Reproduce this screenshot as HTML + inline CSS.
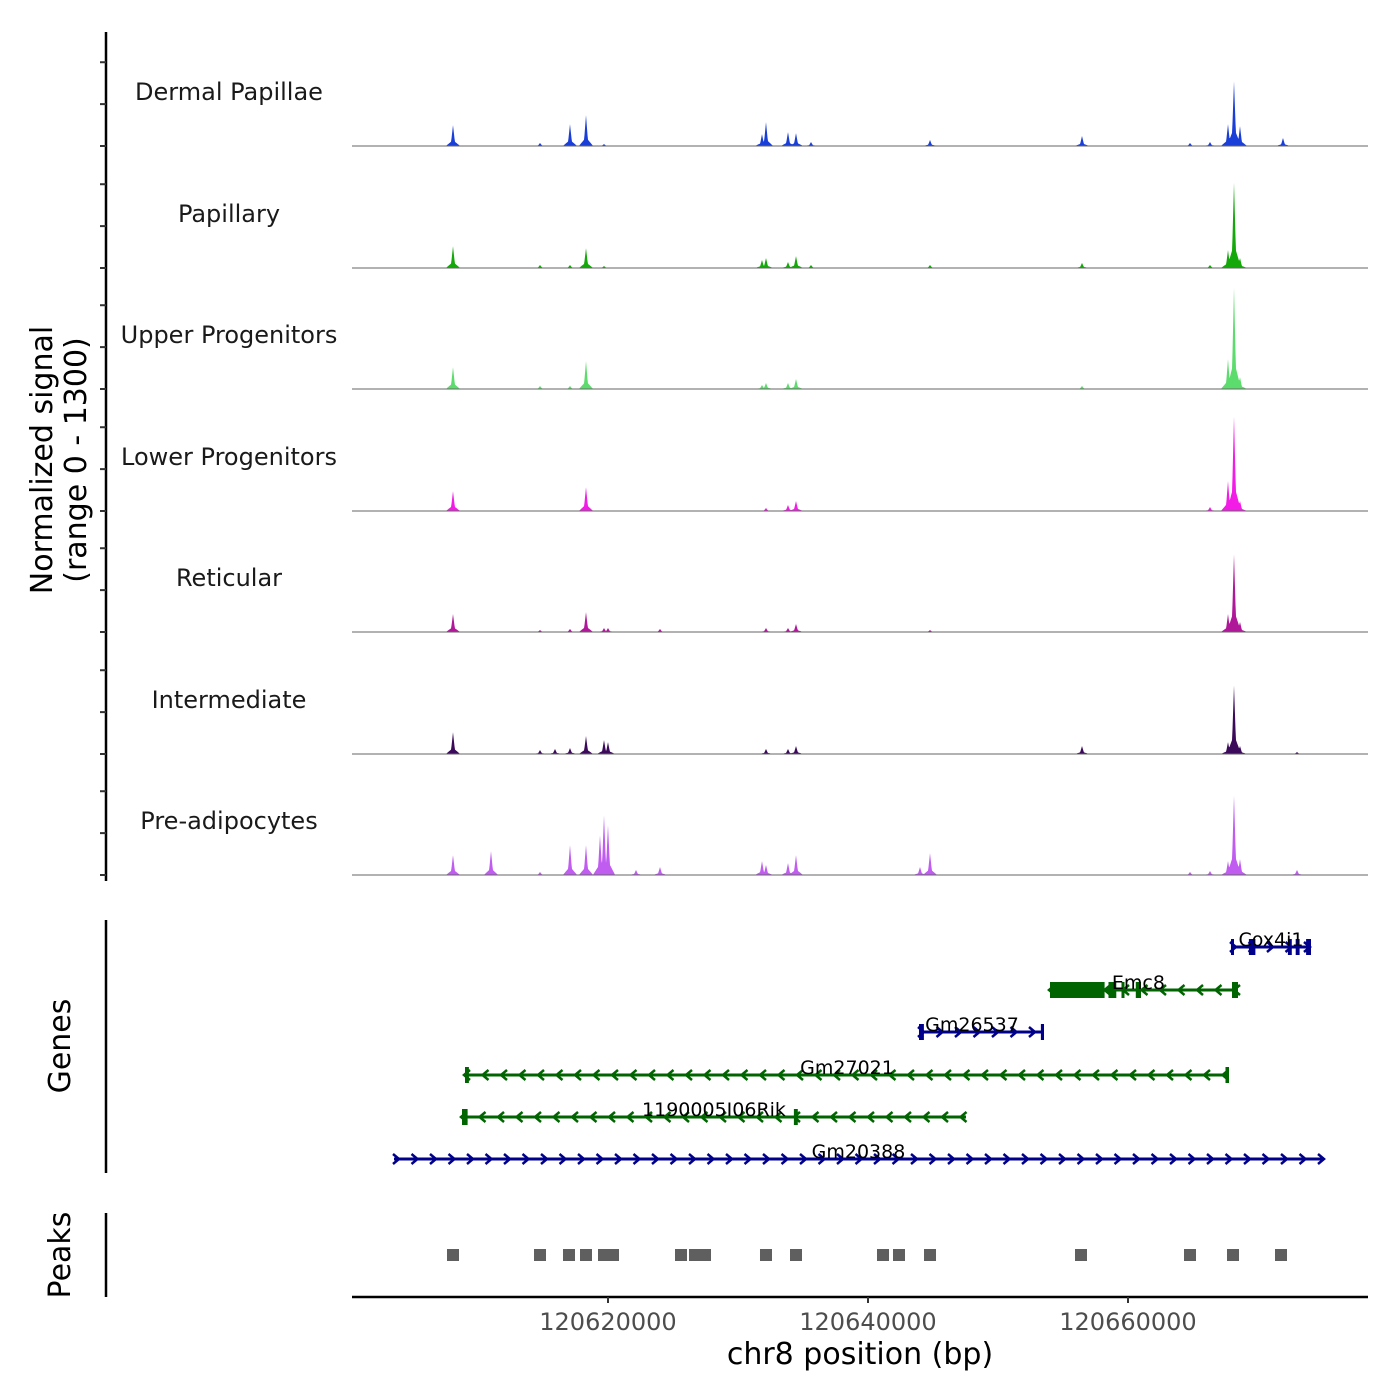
<!DOCTYPE html>
<html><head><meta charset="utf-8"><style>
html,body{margin:0;padding:0;background:#fff;}
svg{display:block;font-family:"DejaVu Sans","Liberation Sans",sans-serif;}
</style></head><body>
<svg id="chart" width="1400" height="1400" viewBox="0 0 1400 1400" xmlns="http://www.w3.org/2000/svg"></svg>
<script>
// ---- data ----
const trackNames = ["Dermal Papillae","Papillary","Upper Progenitors","Lower Progenitors","Reticular","Intermediate","Pre-adipocytes"];
const trackColors = ["#1a3fd8","#14a80a","#5ddc6e","#f21ce6","#b0189a","#3c0a5a","#c05cf0"];
const peakPositions = [120608077,120611000,120614770,120615923,120617077,120618308,120619385,120619693,120620000,120622154,120624000,120631846,120632154,120633846,120634462,120635616,120644000,120644770,120656462,120664770,120666308,120667693,120668154,120668616,120671923,120673000];
const dermalValues = [225,0,32,0,235,332,0,21,0,0,0,128,257,150,139,43,0,64,107,32,43,235,696,214,86,0];
const papillaryValues = [235,0,32,0,32,214,0,21,0,0,0,86,107,64,128,32,0,32,54,0,32,193,920,107,0,0];
const upperValues = [235,0,32,0,32,300,0,0,0,0,0,43,64,64,107,0,0,0,32,0,0,321,1091,128,0,0];
const lowerValues = [214,0,0,0,0,257,0,0,0,0,0,0,32,64,107,0,0,0,0,0,43,321,1016,107,0,0];
const reticularValues = [193,0,21,0,32,214,0,43,43,0,32,0,43,43,86,0,0,21,0,0,0,193,835,107,0,0];
const intermediateValues = [235,0,43,54,64,193,0,150,128,0,0,0,54,54,86,0,0,0,86,0,0,128,738,86,0,21];
const preadipoValues = [214,257,32,0,321,321,428,642,535,54,86,150,107,128,214,0,86,235,0,32,43,150,856,171,0,54];
const trackValues = [dermalValues,papillaryValues,upperValues,lowerValues,reticularValues,intermediateValues,preadipoValues];
const geneNames = ["Cox4i1","Emc8","Gm26537","Gm27021","1190005I06Rik","Gm20388"];
const geneStarts = [120667923,120654000,120643923,120609000,120608770,120603539];
const geneEnds = [120674077,120668462,120653539,120667770,120647539,120675000];
const geneStrands = ["+","-","+","-","-","+"];
const geneExons = [
  [[120667923,120668100],[120669300,120669800],[120672300,120672600],[120672900,120673200],[120673700,120674077]],
  [[120654000,120658200],[120658500,120659100],[120659500,120659700],[120660600,120661000],[120668000,120668462]],
  [[120643923,120644300],[120653300,120653539]],
  [[120609000,120609300],[120667500,120667770]],
  [[120608770,120609200],[120634300,120634600]],
  []
];
const peakRegions = [120608077,120614770,120617000,120618308,120619693,120620385,120625616,120626693,120627462,120632154,120634462,120641154,120642385,120644770,120656385,120664770,120668077,120671770];
const xTicks = [120620000,120640000,120660000];
const xTickLabels = ["120620000","120640000","120660000"];

// ---- scales ----
const X0 = 352, X1 = 1368, BP0 = 120600308, BP1 = 120678462;
const xScale = bp => X0 + (bp - BP0) / (BP1 - BP0) * (X1 - X0);
const baselines = [146,268,389,511,632,754,875];
const TRACK_H = 121, YMAX = 1300;
const yScale = (v, i) => baselines[i] - v / YMAX * TRACK_H;

const svg = document.getElementById('chart');
const NS = "http://www.w3.org/2000/svg";
function mk(tag, attrs, parent){ const e=document.createElementNS(NS,tag); for(const k in attrs) e.setAttribute(k,attrs[k]); (parent||svg).appendChild(e); return e; }

// ---- left axis for signal ----
const sigAxis = mk('line',{x1:106,y1:32,x2:106,y2:881,stroke:'#000','stroke-width':2.5});


baselines.forEach((b)=>{
  [0,450,900].forEach(v=>{
    const y = b - v / YMAX * TRACK_H;
    const t = mk('line',{x1:100,y1:y,x2:106,y2:y,stroke:'#333','stroke-width':2});
    
    
  });
});
const yt = mk('text',{transform:'translate(52,460) rotate(-90)','text-anchor':'middle','font-size':30,fill:'#000'});


const ts1 = mk('tspan',{x:0,dy:0},yt); ts1.textContent='Normalized signal';
const ts2 = mk('tspan',{x:0,dy:34},yt); ts2.textContent='(range 0 - 1300)';

// ---- tracks ----
function signalAt(bp, vals){
  let m = 0;
  peakPositions.forEach((p,j)=>{
    const h = vals[j]; if(!h) return;
    const d = Math.abs(bp - p);
    const narrow = Math.max(0, 1 - d/180) * h;
    const shoulder = Math.max(0, 1 - d/550) * h * 0.28;
    m = Math.max(m, narrow, shoulder);
  });
  return m;
}
trackNames.forEach((name,i)=>{
  const g = mk('g',{});
  
  
  const lbl = mk('text',{x:229,y:baselines[i]-46,'text-anchor':'middle','font-size':24,fill:'#1a1a1a'},g);
  lbl.textContent = name;
  
  
  let d = `M${X0},${baselines[i]}`;
  for(let px=X0; px<=X1; px+=0.5){
    const bp = BP0 + (px - X0)/(X1-X0)*(BP1-BP0);
    d += `L${px},${yScale(signalAt(bp, trackValues[i]), i).toFixed(2)}`;
  }
  d += `L${X1},${baselines[i]}Z`;
  const area = mk('path',{d:d,fill:trackColors[i],stroke:'none'},g);
  
  
  const base = mk('line',{x1:X0,y1:baselines[i],x2:X1,y2:baselines[i],stroke:'#666','stroke-width':1},g);
  
  
});

// ---- genes ----
const gAxis = mk('line',{x1:106,y1:920,x2:106,y2:1173,stroke:'#000','stroke-width':2.5});


const gt = mk('text',{transform:'translate(70,1046) rotate(-90)','text-anchor':'middle','font-size':30});
gt.textContent='Genes';


const geneRows = [947,990,1032,1075,1117,1159];
geneNames.forEach((name,i)=>{
  const col = geneStrands[i]==='+' ? '#00008b' : '#006400';
  const y = geneRows[i];
  const g = mk('g',{});
  
  
  const xa = xScale(geneStarts[i]), xb = xScale(geneEnds[i]);
  mk('line',{x1:xa,y1:y,x2:xb,y2:y,stroke:col,'stroke-width':3},g);
  for(let x=xa+2; x<=xb; x+=18.5){
    const dir = geneStrands[i]==='+' ? 1 : -1;
    mk('path',{d:`M${x-3*dir},${y-5}L${x+3*dir},${y}L${x-3*dir},${y+5}`,fill:'none',stroke:col,'stroke-width':2.5},g);
  }
  geneExons[i].forEach(e=>{
    const a = xScale(e[0]), b = xScale(e[1]);
    mk('rect',{x:a,y:y-8,width:Math.max(3,b-a),height:16,fill:col},g);
  });
  const lbl = mk('text',{x:(xa+xb)/2,y:y-1,'text-anchor':'middle','font-size':19,fill:'#000'},g);
  if(i===1) lbl.setAttribute('x', xScale(120660800));
  if(i===2) lbl.setAttribute('x', xScale(120648000));
  lbl.textContent = name;
});

// ---- peaks ----
const pAxis = mk('line',{x1:106,y1:1213,x2:106,y2:1297,stroke:'#000','stroke-width':2.5});


const pt = mk('text',{transform:'translate(70,1255) rotate(-90)','text-anchor':'middle','font-size':30});
pt.textContent='Peaks';


peakRegions.forEach(p=>{
  const r = mk('rect',{x:xScale(p)-6,y:1249,width:12,height:12,fill:'#5f5f5f'});
  
  
});

// ---- x axis ----
const xa = mk('line',{x1:X0,y1:1297,x2:X1,y2:1297,stroke:'#000','stroke-width':2.5});


xTicks.forEach((t,i)=>{
  const x = xScale(t);
  const tk = mk('line',{x1:x,y1:1297,x2:x,y2:1303,stroke:'#333','stroke-width':2});
  
  
  const tl = mk('text',{x:x,y:1330,'text-anchor':'middle','font-size':24,fill:'#4d4d4d'});
  tl.textContent = xTickLabels[i];
  
  
});
const xt = mk('text',{x:860,y:1364,'text-anchor':'middle','font-size':30,fill:'#000'});
xt.textContent='chr8 position (bp)';


</script>
</body></html>
